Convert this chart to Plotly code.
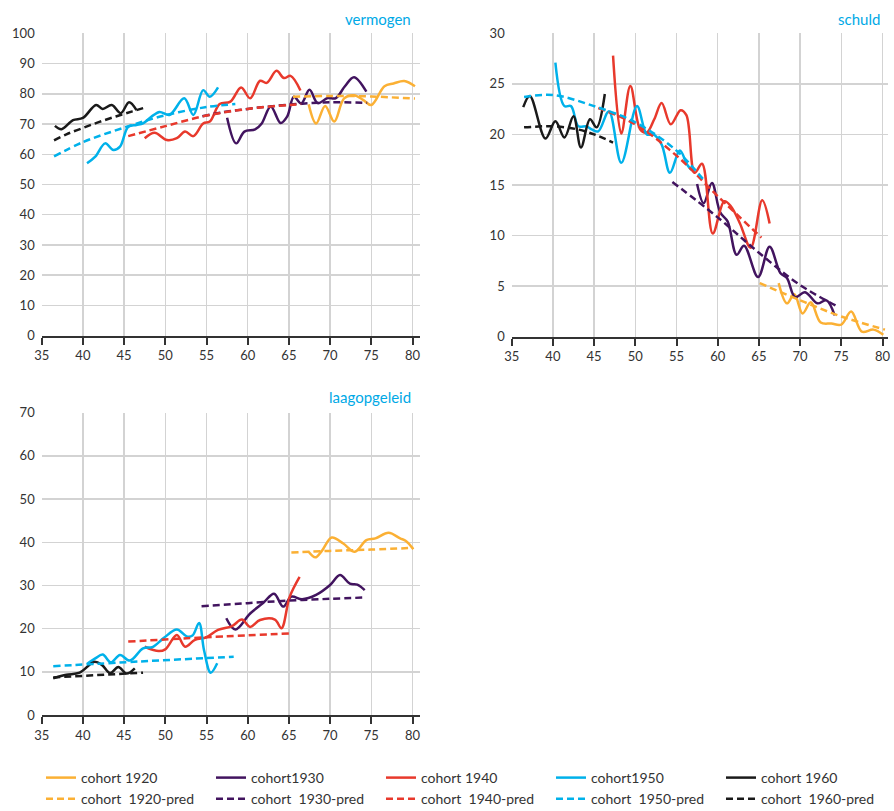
import plotly.graph_objects as go

# ---------------- data ----------------
# vermogen
verm_1920_x = [67.4, 68.3, 69.4, 70.5, 71.7, 72.9, 74.0, 75.0, 76.6, 77.7, 79.0, 80.3]
verm_1920_y = [76.5, 70.2, 76.0, 70.8, 78.5, 79.5, 78.0, 76.3, 82.5, 83.4, 84.2, 82.5]
verm_1920p_x = [65.5, 70, 75, 80.3]
verm_1920p_y = [79.0, 79.3, 79.1, 78.4]
verm_1930_x = [57.5, 58.6, 59.6, 60.9, 61.7, 62.8, 64.0, 64.8, 65.6, 66.5, 67.5, 68.5, 69.7, 70.7, 71.8, 72.9, 74.4]
verm_1930_y = [72.1, 63.6, 67.5, 68.2, 70.2, 75.8, 70.3, 72.5, 79.0, 76.8, 81.3, 76.9, 78.6, 78.6, 82.5, 85.5, 80.7]
verm_1930p_x = [54.5, 57, 60, 65, 70, 74.5]
verm_1930p_y = [72.6, 73.9, 75.0, 76.4, 77.2, 77.0]
verm_1940_x = [47.5, 48.7, 50.2, 51.4, 52.4, 53.4, 54.6, 55.4, 56.6, 57.9, 59.2, 60.3, 61.5, 62.3, 63.5, 64.4, 65.2, 66.4]
verm_1940_y = [65.3, 67.1, 64.7, 65.3, 67.5, 66.0, 70.2, 70.8, 76.6, 77.4, 82.1, 78.5, 84.3, 83.6, 87.6, 85.2, 85.9, 81.1]
verm_1940p_x = [45.5, 50, 55, 60, 65, 66.5]
verm_1940p_y = [66.0, 69.3, 72.8, 75.0, 76.3, 76.6]
verm_1950_x = [40.5, 41.5, 42.7, 43.7, 44.5, 45.5, 46.5, 47.3, 48.3, 49.3, 50.5, 52.3, 53.4, 54.6, 55.4, 56.4]
verm_1950_y = [57.0, 59.2, 63.6, 61.4, 62.5, 69.1, 69.7, 70.2, 72.4, 74.0, 73.0, 78.5, 73.0, 81.2, 79.0, 82.1]
verm_1950p_x = [36.5, 40, 45, 50, 55, 58.5]
verm_1950p_y = [59.3, 64.0, 68.8, 72.9, 75.6, 76.6]
verm_1960_x = [36.6, 37.4, 38.8, 40.0, 41.6, 42.4, 43.5, 44.6, 45.6, 46.5]
verm_1960_y = [69.4, 68.3, 71.3, 72.0, 76.3, 75.0, 76.3, 73.6, 77.2, 74.6]
verm_1960p_x = [36.5, 38, 40, 42, 44, 46, 47.5]
verm_1960p_y = [64.6, 66.6, 68.7, 70.7, 72.5, 74.2, 75.4]

# schuld
sch_1920_x = [67.4, 68.4, 69.3, 70.3, 71.3, 72.5, 73.8, 75.0, 76.2, 77.5, 78.9, 80.1]
sch_1920_y = [5.3, 3.3, 4.2, 2.3, 3.4, 1.4, 1.3, 1.2, 2.5, 0.5, 0.7, 0.2]
sch_1920p_x = [65.1, 70, 75, 80.3]
sch_1920p_y = [5.3, 3.6, 2.0, 0.7]
sch_1930_x = [57.5, 58.3, 59.3, 60.3, 61.2, 62.3, 63.2, 64.9, 66.3, 67.6, 68.4, 69.4, 70.6, 72.1, 73.2, 74.2]
sch_1930_y = [15.1, 13.2, 15.2, 12.3, 11.4, 8.1, 9.0, 5.9, 8.9, 6.3, 5.8, 3.9, 4.4, 3.3, 3.6, 2.1]
sch_1930p_x = [54.5, 60, 65, 70, 74.3]
sch_1930p_y = [15.3, 11.8, 8.3, 5.1, 3.1]
sch_1940_x = [47.3, 48.3, 49.4, 50.6, 51.4, 52.3, 53.2, 54.3, 55.5, 56.2, 57.2, 58.1, 59.4, 60.8, 61.6, 62.7, 64.0, 65.4, 66.3]
sch_1940_y = [27.8, 20.1, 24.8, 20.5, 20.2, 21.5, 23.1, 21.0, 22.4, 21.9, 16.2, 17.1, 10.2, 13.4, 12.9, 11.2, 8.8, 13.5, 11.2]
sch_1940p_x = [45.5, 50, 55, 60, 65.3]
sch_1940p_y = [22.6, 21.0, 17.9, 13.9, 9.8]
sch_1950_x = [40.3, 41.4, 42.2, 43.1, 44.1, 44.7, 45.5, 46.8, 48.3, 50.2, 51.4, 52.2, 53.2, 54.2, 55.4, 56.3, 56.8]
sch_1950_y = [27.1, 22.8, 22.8, 20.8, 20.8, 20.5, 20.3, 22.3, 17.2, 22.8, 20.0, 20.0, 19.0, 16.2, 18.4, 17.0, 16.5]
sch_1950p_x = [36.5, 40, 45, 50, 55, 58.5]
sch_1950p_y = [23.7, 23.9, 22.8, 21.2, 18.4, 15.3]
sch_1960_x = [36.4, 37.2, 39.1, 40.3, 41.4, 42.5, 43.4, 44.5, 45.3, 46.3]
sch_1960_y = [22.7, 23.8, 19.6, 21.3, 19.7, 21.8, 18.7, 21.5, 20.7, 24.0]
sch_1960p_x = [36.5, 40, 43, 45, 47.3]
sch_1960p_y = [20.7, 20.8, 20.5, 20.0, 19.2]

# laagopgeleid
laag_1920_x = [67.4, 68.2, 69.0, 70.2, 71.6, 73.0, 74.4, 75.5, 77.1, 78.5, 79.2, 80.1]
laag_1920_y = [37.8, 36.5, 38.0, 41.1, 39.7, 37.8, 40.5, 40.9, 42.2, 40.9, 40.3, 38.4]
laag_1920p_x = [65.3, 70, 75, 80.1]
laag_1920p_y = [37.6, 38.0, 38.3, 38.7]
laag_1930_x = [57.4, 58.5, 60.3, 61.9, 63.2, 64.3, 65.3, 66.6, 68.3, 70.0, 71.2, 72.4, 73.3, 74.2]
laag_1930_y = [22.4, 19.8, 23.5, 26.0, 28.1, 25.1, 27.4, 26.8, 27.8, 30.1, 32.4, 30.4, 30.2, 28.9]
laag_1930p_x = [54.4, 60, 65, 70, 74.2]
laag_1930p_y = [25.2, 25.9, 26.5, 26.9, 27.2]
laag_1940_x = [47.5, 49.2, 50.0, 51.4, 52.4, 53.6, 55.0, 56.4, 58.1, 59.3, 60.3, 61.5, 63.3, 64.1, 65.1, 66.3]
laag_1940_y = [15.8, 14.8, 15.2, 18.5, 15.8, 17.4, 18.0, 19.7, 20.6, 22.1, 20.4, 22.0, 22.1, 20.1, 27.4, 32.0]
laag_1940p_x = [45.5, 55, 65.3]
laag_1940p_y = [17.0, 18.0, 18.9]
laag_1950_x = [40.5, 41.5, 42.4, 43.4, 44.5, 45.7, 47.3, 48.5, 49.8, 51.4, 52.6, 53.3, 54.1, 54.7, 55.5, 56.3]
laag_1950_y = [11.8, 13.1, 14.0, 12.2, 13.9, 12.6, 15.4, 15.8, 17.8, 19.8, 18.2, 18.4, 21.3, 15.0, 9.8, 12.0]
laag_1950p_x = [36.4, 47, 58.3]
laag_1950p_y = [11.3, 12.4, 13.5]
laag_1960_x = [36.4, 38.0, 39.6, 41.4, 42.3, 43.3, 44.3, 45.3, 46.3]
laag_1960_y = [8.5, 9.3, 9.8, 12.3, 11.6, 9.7, 11.1, 9.6, 10.8]
laag_1960p_x = [36.4, 47.3]
laag_1960p_y = [8.7, 9.8]

cohorts = ["1920", "1930", "1940", "1950", "1960"]
solid_names = ["cohort 1920", "cohort1930", "cohort 1940", "cohort1950", "cohort 1960"]
pred_names = ["cohort\u00a0 1920-pred", "cohort\u00a0 1930-pred", "cohort\u00a0 1940-pred",
              "cohort\u00a0 1950-pred", "cohort\u00a0 1960-pred"]
colors = ["#fbb034", "#42145f", "#e8392c", "#00b1ea", "#1a1a1a"]

panels = [
    ("x", "y", {
        "solid": [(verm_1920_x, verm_1920_y), (verm_1930_x, verm_1930_y), (verm_1940_x, verm_1940_y),
                  (verm_1950_x, verm_1950_y), (verm_1960_x, verm_1960_y)],
        "pred": [(verm_1920p_x, verm_1920p_y), (verm_1930p_x, verm_1930p_y), (verm_1940p_x, verm_1940p_y),
                 (verm_1950p_x, verm_1950p_y), (verm_1960p_x, verm_1960p_y)]}),
    ("x2", "y2", {
        "solid": [(sch_1920_x, sch_1920_y), (sch_1930_x, sch_1930_y), (sch_1940_x, sch_1940_y),
                  (sch_1950_x, sch_1950_y), (sch_1960_x, sch_1960_y)],
        "pred": [(sch_1920p_x, sch_1920p_y), (sch_1930p_x, sch_1930p_y), (sch_1940p_x, sch_1940p_y),
                 (sch_1950p_x, sch_1950p_y), (sch_1960p_x, sch_1960p_y)]}),
    ("x3", "y3", {
        "solid": [(laag_1920_x, laag_1920_y), (laag_1930_x, laag_1930_y), (laag_1940_x, laag_1940_y),
                  (laag_1950_x, laag_1950_y), (laag_1960_x, laag_1960_y)],
        "pred": [(laag_1920p_x, laag_1920p_y), (laag_1930p_x, laag_1930p_y), (laag_1940p_x, laag_1940p_y),
                 (laag_1950p_x, laag_1950p_y), (laag_1960p_x, laag_1960p_y)]}),
]

fig = go.Figure()
LW = 2.5
for pi, (xa, ya, d) in enumerate(panels):
    for kind in ("solid", "pred"):
        for ci in range(5):
            xs, ys = d[kind][ci]
            name = solid_names[ci] if kind == "solid" else pred_names[ci]
            fig.add_trace(go.Scatter(
                x=xs, y=ys, mode="lines", name=name,
                legendgroup=kind + cohorts[ci],
                showlegend=(pi == 0),
                line=dict(color=colors[ci], width=LW, shape="spline", smoothing=1.0,
                          dash="solid" if kind == "solid" else "7px,4px"),
                xaxis=xa, yaxis=ya, hoverinfo="skip"))

W, H = 894, 811
FONT = "Lato, 'Open Sans', sans-serif"
grid = "#d3d3d3"


def xax(dom, rng):
    return dict(domain=dom, range=rng, tickvals=[35, 40, 45, 50, 55, 60, 65, 70, 75, 80],
                showgrid=True, gridcolor=grid, gridwidth=1.5, zeroline=False,
                showline=True, linecolor="#333333", linewidth=2,
                ticks="outside", ticklen=7, tickwidth=2, tickcolor="#333333",
                tickfont=dict(size=13, color="#333333", family=FONT), automargin=False,
                fixedrange=True)


def yax(dom, rng, dt, anchor):
    return dict(domain=dom, range=rng, dtick=dt, tick0=0, anchor=anchor,
                showgrid=True, gridcolor=grid, gridwidth=1.5, zeroline=False,
                showline=False, ticks="", ticklabelstandoff=6,
                tickfont=dict(size=13, color="#333333", family=FONT), automargin=False,
                fixedrange=True)


left = [41.7 / W, 420 / W]
right = [511.7 / W, 888 / W]
top = [1 - 335.7 / H, 1 - 33.3 / H]
topr = [1 - 336.7 / H, 1 - 33.3 / H]
bot = [1 - 715 / H, 1 - 412.7 / H]

fig.update_layout(
    width=W, height=H, template="none",
    paper_bgcolor="white", plot_bgcolor="white",
    margin=dict(l=0, r=0, t=0, b=0, autoexpand=False),
    font=dict(family=FONT, color="#333333"),
    xaxis=xax(left, [35, 35 + (420 - 41.7) / 8.24]) | dict(anchor="y"),
    yaxis=yax(top, [0, 100], 10, "x"),
    xaxis2=xax(right, [35, 35 + (888 - 511.7) / 8.24]) | dict(anchor="y2"),
    yaxis2=yax(topr, [0, 30], 5, "x2"),
    xaxis3=xax(left, [35, 35 + (420 - 41.7) / 8.24]) | dict(anchor="y3"),
    yaxis3=yax(bot, [0, 70], 10, "x3"),
    legend=dict(orientation="h", x=41 / W, xanchor="left", y=1 - 762 / H, yanchor="top",
                entrywidth=125, entrywidthmode="pixels",
                font=dict(size=14, color="#333333", family=FONT),
                bgcolor="rgba(0,0,0,0)", itemwidth=30, traceorder="normal"),
    showlegend=True,
)

title_color = "#00a9e6"
for txt, xr, yp in [("vermogen", 413 / W, 1 - 19 / H), ("schuld", 882 / W, 1 - 19 / H),
                    ("laagopgeleid", 413 / W, 1 - 397 / H)]:
    fig.add_annotation(text=txt, xref="paper", yref="paper", x=xr, y=yp,
                       xanchor="right", yanchor="middle", showarrow=False,
                       font=dict(size=15, color=title_color, family=FONT))

fig.write_html("out.html", config={"displayModeBar": False, "staticPlot": True},
               post_script="document.body.style.margin='0';document.body.style.padding='0';"
                           "document.body.style.overflow='hidden';")
